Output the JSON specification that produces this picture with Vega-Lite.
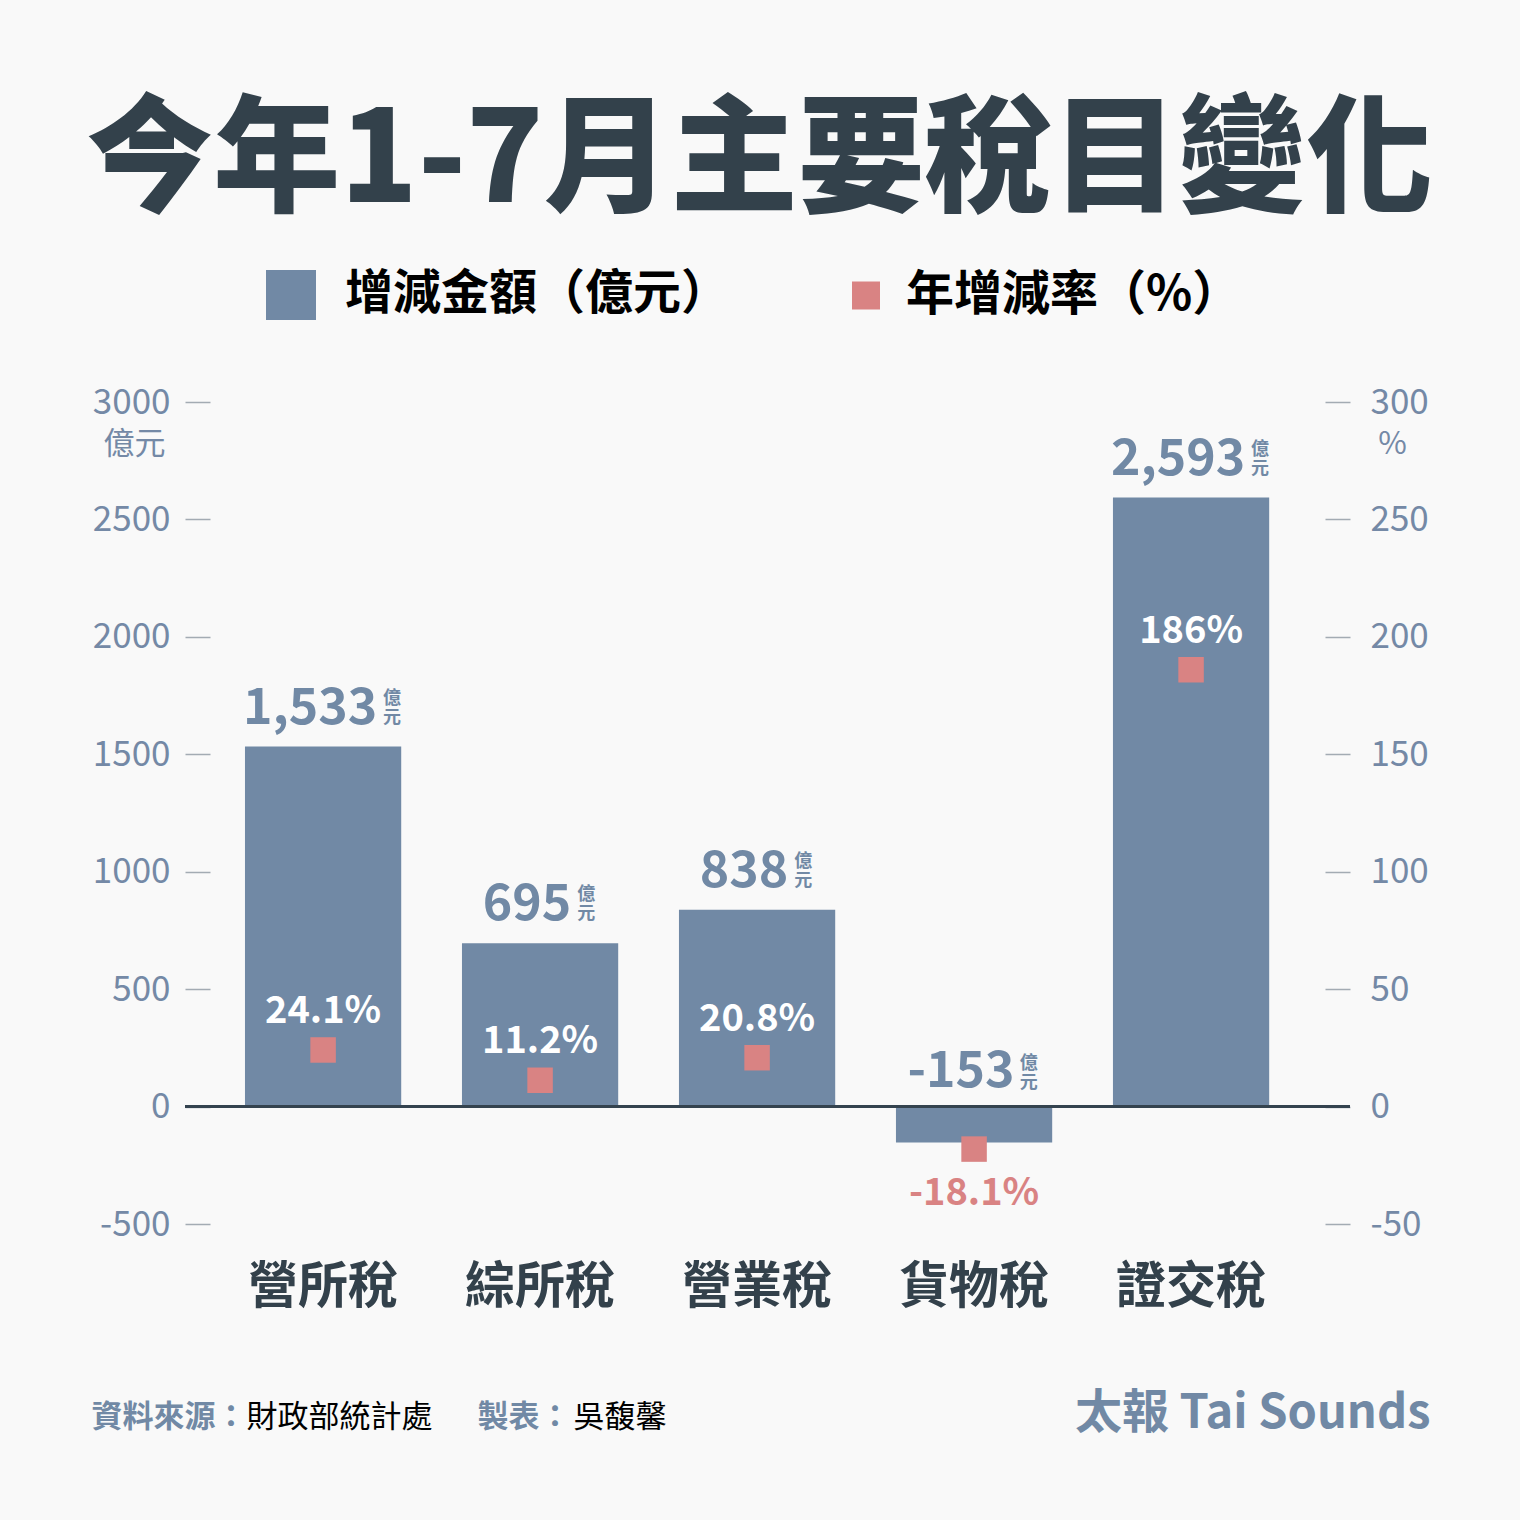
{
  "$schema": "https://vega.github.io/schema/vega-lite/v6.json",
  "autosize": {"type": "none"},
  "width": 1165,
  "height": 822,
  "padding": {"left": 185, "top": 402, "right": 170, "bottom": 296},
  "background": "#f9f9f9",
  "config": {
    "view": {"stroke": null},
    "font": "Noto Sans CJK TC",
    "axis": {"grid": false, "domain": false, "labelFont": "Noto Sans CJK TC", "titleFont": "Noto Sans CJK TC"}
  },
  "title": {
    "text": "今年1-7月主要稅目變化",
    "anchor": "middle",
    "frame": "group",
    "fontSize": 127,
    "fontWeight": 900,
    "font": "Noto Sans CJK TC",
    "color": "#33414b",
    "dx": -8,
    "offset": 41
  },
  "data": {
    "values": [
      {"tax": "營所稅", "amount": 1533, "rate": 24.1},
      {"tax": "綜所稅", "amount": 695, "rate": 11.2},
      {"tax": "營業稅", "amount": 838, "rate": 20.8},
      {"tax": "貨物稅", "amount": -153, "rate": -18.1},
      {"tax": "證交稅", "amount": 2593, "rate": 186}
    ]
  },
  "layer": [
    {
      "layer": [
        {
          "mark": {"type": "bar", "opacity": 1},
          "encoding": {
            "x": {
              "field": "tax", "type": "nominal", "sort": null,
              "scale": {"paddingInner": 0.28, "paddingOuter": 0.3244, "align": 0.426},
              "axis": {
                "orient": "bottom", "title": "資料來源：", "ticks": false,
                "labelAngle": 0, "labelFontSize": 50, "labelFontWeight": "bold", "labelColor": "#33414b",
                "labelPadding": 38, "labelBaseline": "top",
                "titleFontSize": 31, "titleFontWeight": "bold", "titleColor": "#7189a5",
                "titleX": -94, "titleY": 202, "titleAlign": "left", "titleAnchor": null, "titleBaseline": "alphabetic"
              }
            },
            "y": {
              "field": "amount", "type": "quantitative",
              "scale": {"domain": [-500, 3000], "nice": false, "zero": false},
              "axis": {
                "orient": "left", "offset": -25, "values": [-500, 0, 500, 1000, 1500, 2000, 2500, 3000],
                "labelExpr": "'' + datum.value",
                "tickSize": 25, "tickColor": "#a3abb3", "tickWidth": 1.5,
                "labelFontSize": 35, "labelColor": "#7489a6", "labelPadding": 15,
                "title": "億元", "titleAngle": 0, "titleX": -76, "titleY": 42,
                "titleAlign": "center", "titleBaseline": "middle", "titleAnchor": null,
                "titleFontSize": 31, "titleFontWeight": "normal", "titleColor": "#7489a6"
              }
            },
            "color": {
              "datum": "增減金額（億元）",
              "scale": {"domain": ["增減金額（億元）", "年增減率（%）"], "range": ["#7189a5", "#d98383"]},
              "legend": {
                "orient": "none", "legendX": 81, "legendY": -132, "direction": "horizontal",
                "title": null, "symbolType": "square", "symbolSize": 2500, "symbolOpacity": 1,
                "symbolStrokeWidth": 0, "labelFontSize": 48, "labelFontWeight": "bold",
                "labelColor": "#000000", "labelFont": "Noto Sans CJK TC", "labelOffset": 29,
                "columnPadding": 111, "labelLimit": 600,
                "encode": {
                  "symbols": {"update": {"size": {"signal": "datum.value === '年增減率（%）' ? 784 : 2500"}}},
                  "labels": {"update": {"dx": {"signal": "datum.value === '年增減率（%）' ? -14 : 0"}}}
                }
              }
            }
          }
        },
        {
          "mark": {"type": "rule", "color": "#34434f", "strokeWidth": 3},
          "encoding": {"y": {"datum": 0, "type": "quantitative"}}
        }
      ]
    },
    {
      "layer": [
        {
          "transform": [{"filter": "datum.amount >= 0"}],
          "mark": {"type": "text", "fontSize": 50, "fontWeight": "bold", "color": "#7189a5", "dx": -13, "dy": -23, "baseline": "alphabetic"},
          "encoding": {
            "x": {"field": "tax", "type": "nominal", "sort": null,
              "axis": {"orient": "bottom", "labels": false, "ticks": false, "title": "財政部統計處",
                "titleFontSize": 31, "titleFontWeight": "normal", "titleColor": "#000000",
                "titleX": 61, "titleY": 202, "titleAlign": "left", "titleAnchor": null, "titleBaseline": "alphabetic"}},
            "y": {"field": "amount", "type": "quantitative", "scale": {"domain": [-500, 3000], "nice": false, "zero": false}, "axis": null},
            "text": {"field": "amount", "type": "quantitative", "format": ","}
          }
        },
        {
          "transform": [{"filter": "datum.amount < 0"}],
          "mark": {"type": "text", "fontSize": 50, "fontWeight": "bold", "color": "#7189a5", "dx": -13, "dy": -20, "baseline": "alphabetic"},
          "encoding": {
            "x": {"field": "tax", "type": "nominal", "sort": null},
            "y": {"datum": 0, "type": "quantitative"},
            "text": {"field": "amount", "type": "nominal"}
          }
        }
      ]
    },
    {
      "layer": [
        {
          "transform": [{"filter": "datum.amount >= 0"}],
          "mark": {"type": "text", "text": ["億", "元"], "lineHeight": 19, "fontSize": 18, "fontWeight": "bold", "color": "#7189a5", "align": "left", "baseline": "alphabetic", "dy": -43,
            "dx": {"expr": "14.35 * length(replace(format(datum.amount, ','), regexp('[^0-9]', 'g'), '')) + 8.5 * (length(format(datum.amount, ',')) - length(replace(format(datum.amount, ','), regexp('[^0-9]', 'g'), ''))) - 6"}},
          "encoding": {
            "x": {"field": "tax", "type": "nominal", "sort": null,
              "axis": {"orient": "bottom", "labels": false, "ticks": false, "title": "吳馥馨",
                "titleFontSize": 31, "titleFontWeight": "normal", "titleColor": "#000000",
                "titleX": 388, "titleY": 202, "titleAlign": "left", "titleAnchor": null, "titleBaseline": "alphabetic"}},
            "y": {"field": "amount", "type": "quantitative", "scale": {"domain": [-500, 3000], "nice": false, "zero": false}, "axis": null}
          }
        },
        {
          "transform": [{"filter": "datum.amount < 0"}],
          "mark": {"type": "text", "text": ["億", "元"], "lineHeight": 19, "fontSize": 18, "fontWeight": "bold", "color": "#7189a5", "align": "left", "baseline": "alphabetic", "dy": -38,
            "dx": {"expr": "14.35 * length(replace(format(datum.amount, ','), regexp('[^0-9]', 'g'), '')) + 8.5 * (length(format(datum.amount, ',')) - length(replace(format(datum.amount, ','), regexp('[^0-9]', 'g'), ''))) - 6"}},
          "encoding": {
            "x": {"field": "tax", "type": "nominal", "sort": null},
            "y": {"datum": 0, "type": "quantitative"}
          }
        }
      ]
    },
    {
      "layer": [
        {
          "mark": {"type": "square", "size": 650, "opacity": 1},
          "encoding": {
            "x": {"field": "tax", "type": "nominal", "sort": null,
              "axis": {"orient": "bottom", "labels": false, "ticks": false, "title": "製表：",
                "titleFontSize": 31, "titleFontWeight": "bold", "titleColor": "#7189a5",
                "titleX": 292, "titleY": 202, "titleAlign": "left", "titleAnchor": null, "titleBaseline": "alphabetic"}},
            "y": {
              "field": "rate", "type": "quantitative",
              "scale": {"domain": [-50, 300], "nice": false, "zero": false},
              "axis": {
                "orient": "right", "offset": -25, "values": [-50, 0, 50, 100, 150, 200, 250, 300],
                "labelExpr": "'' + datum.value",
                "tickSize": 25, "tickColor": "#a3abb3", "tickWidth": 1.5,
                "labelFontSize": 35, "labelColor": "#7489a6", "labelPadding": 20,
                "title": "%", "titleAngle": 0, "titleX": 67, "titleY": 42,
                "titleAlign": "center", "titleBaseline": "middle", "titleAnchor": null,
                "titleFontSize": 31, "titleFontWeight": "normal", "titleColor": "#7489a6"
              }
            },
            "color": {"datum": "年增減率（%）"}
          }
        },
        {
          "transform": [{"filter": "datum.rate >= 0"}, {"calculate": "datum.rate + '%'", "as": "rateLabel"}],
          "mark": {"type": "text", "fontSize": 38, "fontWeight": "bold", "color": "#ffffff", "baseline": "alphabetic", "dy": -27},
          "encoding": {
            "x": {"field": "tax", "type": "nominal", "sort": null},
            "y": {"field": "rate", "type": "quantitative"},
            "text": {"field": "rateLabel", "type": "nominal"}
          }
        }
      ]
    },
    {
      "layer": [
        {
          "transform": [{"filter": "datum.rate < 0"}, {"calculate": "datum.rate + '%'", "as": "rateLabel"}],
          "mark": {"type": "text", "fontSize": 38, "fontWeight": "bold", "color": "#d98383", "baseline": "alphabetic", "dy": 56},
          "encoding": {
            "x": {"field": "tax", "type": "nominal", "sort": null,
              "axis": {"orient": "bottom", "labels": false, "ticks": false, "title": "太報 Tai Sounds",
                "titleFontSize": 47, "titleFontWeight": "bold", "titleColor": "#7189a5",
                "titleX": 1245, "titleY": 203, "titleAlign": "right", "titleAnchor": null, "titleBaseline": "alphabetic"}},
            "y": {"field": "rate", "type": "quantitative", "scale": {"domain": [-50, 300], "nice": false, "zero": false}, "axis": null},
            "text": {"field": "rateLabel", "type": "nominal"}
          }
        }
      ]
    }
  ],
  "resolve": {"scale": {"y": "independent"}, "axis": {"x": "independent", "y": "independent"}}
}
